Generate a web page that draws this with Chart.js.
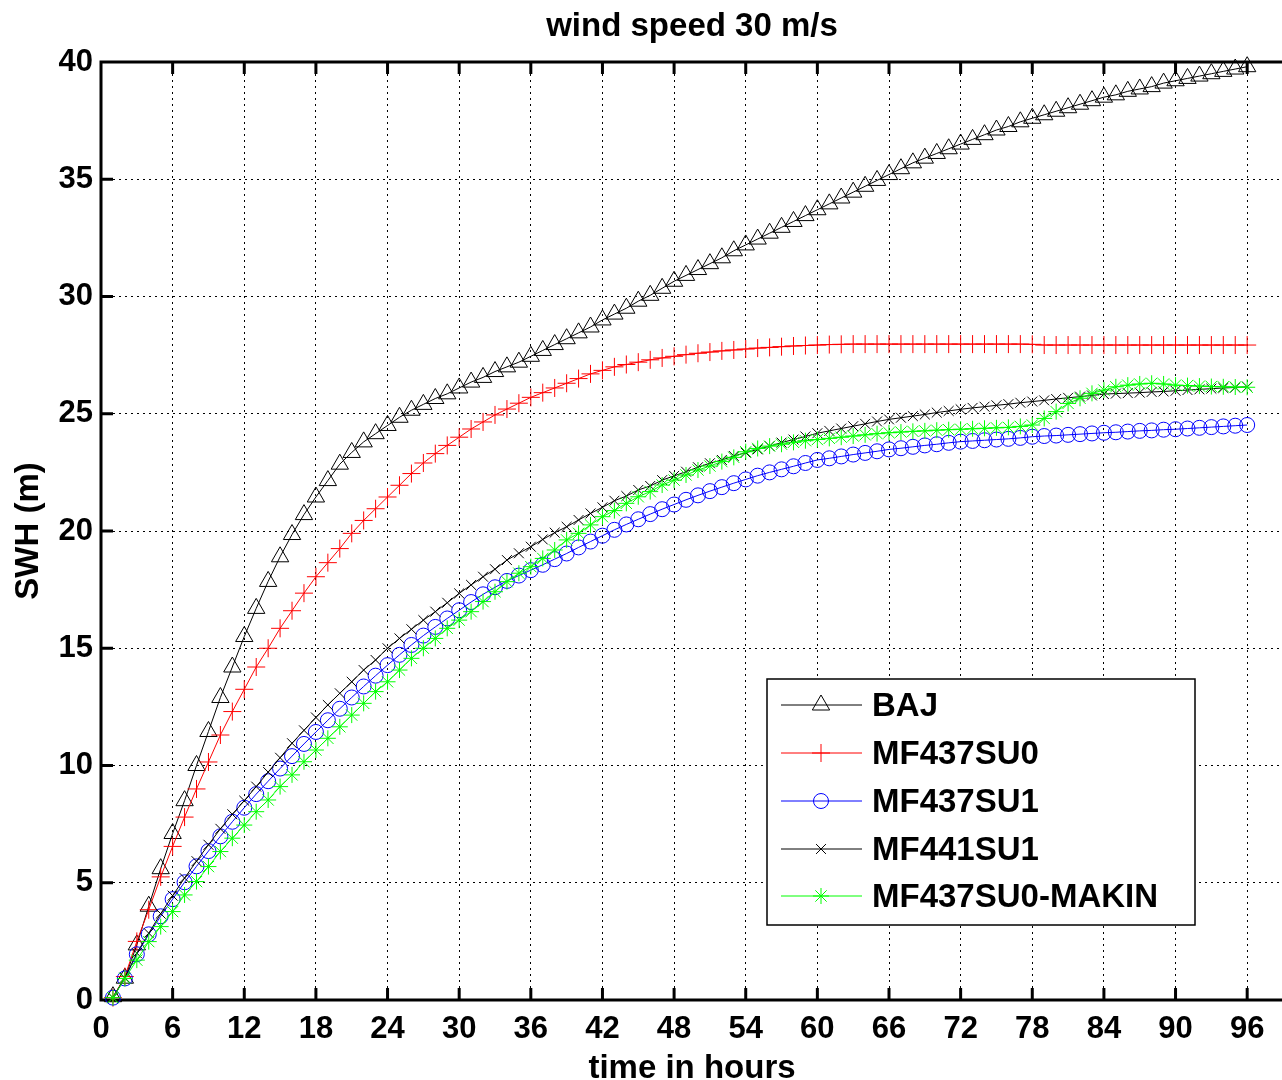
<!DOCTYPE html>
<html>
<head>
<meta charset="utf-8">
<script src="https://cdn.jsdelivr.net/npm/chart.js@4/dist/chart.umd.min.js"></script>
<style>
  html, body { margin: 0; padding: 0; background: #fff; overflow: hidden; }
  #wrap { width: 1282px; height: 1080px; overflow: hidden; }
</style>
</head>
<body>
<div id="wrap"><canvas id="myChart" width="1294" height="1080"></canvas></div>
<script>
// hours of simulation (x values)
const hours = [1,2,3,4,5,6,7,8,9,10,11,12,13,14,15,16,17,18,19,20,
  21,22,23,24,25,26,27,28,29,30,31,32,33,34,35,36,37,38,39,40,
  41,42,43,44,45,46,47,48,49,50,51,52,53,54,55,56,57,58,59,60,
  61,62,63,64,65,66,67,68,69,70,71,72,73,74,75,76,77,78,79,80,
  81,82,83,84,85,86,87,88,89,90,91,92,93,94,95,96];

const xTicks = [0,6,12,18,24,30,36,42,48,54,60,66,72,78,84,90,96];
const yTicks = [0,5,10,15,20,25,30,35,40];

const bajValues = [0.14,0.93,2.35,4.0,5.6,7.1,8.5,10.0,11.45,12.9,
  14.2,15.5,16.7,17.85,18.9,19.85,20.7,21.45,22.15,22.85,
  23.35,23.8,24.15,24.5,24.85,25.15,25.4,25.65,25.85,26.1,
  26.35,26.55,26.8,27.0,27.2,27.45,27.7,27.95,28.2,28.45,
  28.7,29.0,29.25,29.5,29.8,30.05,30.35,30.65,30.9,31.15,
  31.4,31.65,31.95,32.2,32.45,32.7,32.95,33.2,33.45,33.7,
  33.95,34.2,34.45,34.7,34.95,35.2,35.45,35.7,35.9,36.1,
  36.3,36.5,36.7,36.9,37.1,37.25,37.45,37.6,37.75,37.9,
  38.05,38.2,38.35,38.5,38.6,38.75,38.85,38.95,39.1,39.2,
  39.3,39.4,39.5,39.6,39.7,39.8];

const mf437su0Values = [0.1,1.0,2.5,3.85,5.25,6.55,7.8,9.0,10.15,11.3,
  12.3,13.25,14.2,15.0,15.85,16.6,17.35,18.05,18.65,19.25,
  19.9,20.45,20.95,21.45,21.95,22.45,22.9,23.3,23.65,24.0,
  24.35,24.65,24.95,25.2,25.45,25.7,25.9,26.1,26.3,26.5,
  26.7,26.85,27.0,27.1,27.2,27.3,27.38,27.45,27.52,27.58,
  27.63,27.68,27.72,27.76,27.8,27.83,27.86,27.89,27.91,27.93,
  27.95,27.96,27.97,27.97,27.97,27.97,27.97,27.97,27.97,27.97,
  27.97,27.97,27.97,27.97,27.97,27.97,27.97,27.96,27.93,27.93,
  27.93,27.93,27.93,27.93,27.93,27.93,27.93,27.93,27.93,27.93,
  27.93,27.93,27.93,27.93,27.93,27.93];

const mf437su1Values = [0.1,0.92,1.95,2.8,3.57,4.3,5.02,5.7,6.35,6.98,
  7.6,8.2,8.78,9.33,9.87,10.4,10.92,11.43,11.93,12.42,
  12.9,13.37,13.83,14.28,14.72,15.14,15.54,15.91,16.27,16.62,
  16.97,17.3,17.6,17.87,18.1,18.33,18.56,18.8,19.04,19.3,
  19.55,19.8,20.05,20.28,20.5,20.72,20.93,21.13,21.33,21.52,
  21.7,21.87,22.04,22.2,22.36,22.5,22.63,22.76,22.9,23.03,
  23.1,23.18,23.26,23.33,23.4,23.48,23.53,23.59,23.65,23.7,
  23.76,23.81,23.84,23.87,23.9,23.93,23.97,24.02,24.05,24.07,
  24.1,24.13,24.16,24.19,24.21,24.24,24.27,24.29,24.32,24.34,
  24.37,24.4,24.43,24.46,24.49,24.52];

const mf441su1Values = [0.1,0.95,2.0,2.85,3.68,4.45,5.2,5.92,6.62,7.3,
  7.92,8.5,9.1,9.72,10.33,10.95,11.5,12.05,12.58,13.08,
  13.57,14.07,14.5,15.0,15.42,15.81,16.2,16.56,16.94,17.34,
  17.7,18.05,18.37,18.76,19.05,19.33,19.64,19.93,20.18,20.47,
  20.75,21.01,21.29,21.49,21.75,21.92,22.17,22.35,22.53,22.72,
  22.89,23.03,23.2,23.34,23.48,23.62,23.77,23.9,24.03,24.17,
  24.27,24.37,24.47,24.57,24.67,24.76,24.83,24.9,24.97,25.05,
  25.12,25.19,25.25,25.3,25.36,25.41,25.47,25.52,25.57,25.63,
  25.68,25.73,25.78,25.84,25.86,25.88,25.9,25.93,25.95,25.98,
  26.01,26.04,26.07,26.1,26.12,26.15];

const makinValues = [0.1,0.92,1.7,2.49,3.13,3.77,4.48,5.05,5.69,6.33,
  6.9,7.46,8.03,8.53,9.1,9.6,10.16,10.66,11.16,11.65,
  12.15,12.65,13.15,13.57,14.07,14.57,15.0,15.42,15.85,16.2,
  16.56,16.99,17.41,17.84,18.2,18.48,18.83,19.19,19.62,19.9,
  20.26,20.61,20.87,21.18,21.46,21.68,21.96,22.17,22.39,22.6,
  22.77,22.96,23.14,23.38,23.52,23.62,23.7,23.78,23.85,23.9,
  23.95,24.0,24.05,24.1,24.15,24.19,24.22,24.25,24.27,24.3,
  24.32,24.34,24.36,24.38,24.4,24.42,24.46,24.52,24.8,25.09,
  25.44,25.66,25.87,26.01,26.15,26.22,26.27,26.3,26.27,26.22,
  26.2,26.18,26.16,26.15,26.14,26.13];

const FONT = '"Liberation Sans", Arial, sans-serif';

function toPoints(values) {
    return values.map((v, i) => ({x: hours[i], y: v}));
}

function makeSeries(label, values, color, style, radius, order) {
    return {
        label: label,
        data: toPoints(values),
        borderColor: color,
        borderWidth: 1,
        pointStyle: style,
        pointRadius: radius,
        pointBorderColor: color,
        pointBackgroundColor: 'rgba(0,0,0,0)',
        pointBorderWidth: 1,
        tension: 0,
        fill: false,
        clip: false,
        order: order
    };
}

// axes lines + inward ticks (right side is off the picture)
const frame = {
    id: 'frame',
    beforeDatasetsDraw(chart) {
        const {ctx, chartArea: a, scales} = chart;
        ctx.save();
        ctx.strokeStyle = '#000';
        ctx.lineWidth = 3;
        ctx.beginPath();
        ctx.moveTo(a.right + 10, a.top);
        ctx.lineTo(a.left, a.top);
        ctx.lineTo(a.left, a.bottom);
        ctx.lineTo(a.right + 10, a.bottom);
        xTicks.forEach(v => {
            const px = scales.x.getPixelForValue(v);
            ctx.moveTo(px, a.bottom); ctx.lineTo(px, a.bottom - 12);
            ctx.moveTo(px, a.top); ctx.lineTo(px, a.top + 12);
        });
        yTicks.forEach(v => {
            const py = scales.y.getPixelForValue(v);
            ctx.moveTo(a.left, py); ctx.lineTo(a.left + 12, py);
        });
        ctx.stroke();
        ctx.restore();
    }
};

const titleAndLegend = {
    id: 'titleAndLegend',
    afterDraw(chart) {
        const {ctx, chartArea: a} = chart;
        ctx.save();
        ctx.fillStyle = '#000';
        ctx.font = 'bold 33px ' + FONT;
        ctx.textAlign = 'center';
        ctx.textBaseline = 'alphabetic';
        ctx.fillText('wind speed 30 m/s', (a.left + a.right) / 2, 36);

        // legend box
        const box = {left: 767, top: 679, right: 1195, bottom: 925};
        ctx.fillStyle = '#fff';
        ctx.fillRect(box.left, box.top, box.right - box.left, box.bottom - box.top);
        ctx.strokeStyle = '#000';
        ctx.lineWidth = 1.5;
        ctx.strokeRect(box.left, box.top, box.right - box.left, box.bottom - box.top);

        const rowY = [705, 753, 801, 849, 896];
        ctx.textAlign = 'left';
        ctx.textBaseline = 'middle';
        chart.data.datasets.forEach((ds, i) => {
            const y = rowY[i];
            ctx.strokeStyle = ds.borderColor;
            ctx.lineWidth = 1;
            ctx.beginPath();
            ctx.moveTo(781, y); ctx.lineTo(862, y);
            ctx.stroke();
            ctx.fillStyle = 'rgba(0,0,0,0)';
            Chart.helpers.drawPoint(ctx, {
                pointStyle: ds.pointStyle, radius: ds.pointRadius,
                rotation: 0, borderWidth: 1
            }, 821, y);
            ctx.fillStyle = '#000';
            ctx.font = 'bold 33px ' + FONT;
            ctx.fillText(ds.label, 872, y + 2);
        });
        ctx.restore();
    }
};

document.addEventListener('DOMContentLoaded', function () {
    new Chart('myChart', {
        type: 'line',
        data: {
            datasets: [
                makeSeries('BAJ', bajValues, '#000000', 'triangle', 10, 4),
                makeSeries('MF437SU0', mf437su0Values, '#ff0000', 'cross', 9, 3),
                makeSeries('MF437SU1', mf437su1Values, '#0000ff', 'circle', 7.5, 2),
                makeSeries('MF441SU1', mf441su1Values, '#000000', 'crossRot', 7, 1),
                makeSeries('MF437SU0-MAKIN', makinValues, '#00ff00', 'star', 8, 0)
            ]
        },
        options: {
            responsive: false,
            animation: false,
            events: [],
            layout: {padding: {top: 62, left: 0, right: 4, bottom: 0}},
            plugins: {
                legend: {display: false},
                tooltip: {enabled: false},
                title: {display: false}
            },
            scales: {
                x: {
                    type: 'linear',
                    min: 0,
                    max: 99,
                    afterBuildTicks: (s) => { s.ticks = xTicks.map(v => ({value: v})); },
                    afterFit: (s) => { s.height = 80; },
                    grid: {color: '#000', lineWidth: 1, drawTicks: false},
                    border: {display: false, dash: [2, 4]},
                    ticks: {
                        color: '#000', padding: 11,
                        font: {family: FONT, size: 31, weight: 'bold'},
                        maxRotation: 0, autoSkip: false
                    },
                    title: {
                        display: true, text: 'time in hours', color: '#000',
                        font: {family: FONT, size: 33, weight: 'bold', lineHeight: 0.7},
                        padding: {top: 0, bottom: 0}
                    }
                },
                y: {
                    type: 'linear',
                    min: 0,
                    max: 40,
                    afterBuildTicks: (s) => { s.ticks = yTicks.map(v => ({value: v})); },
                    afterFit: (s) => { s.width = 101; },
                    grid: {color: '#000', lineWidth: 1, drawTicks: false},
                    border: {display: false, dash: [2, 4]},
                    ticks: {
                        color: '#000', padding: 8,
                        font: {family: FONT, size: 31, weight: 'bold'}
                    },
                    title: {
                        display: true, text: 'SWH (m)', color: '#000',
                        font: {family: FONT, size: 33, weight: 'bold', lineHeight: 1},
                        padding: {top: 12, bottom: 0}
                    }
                }
            }
        },
        plugins: [frame, titleAndLegend]
    });
});
</script>
</body>
</html>
